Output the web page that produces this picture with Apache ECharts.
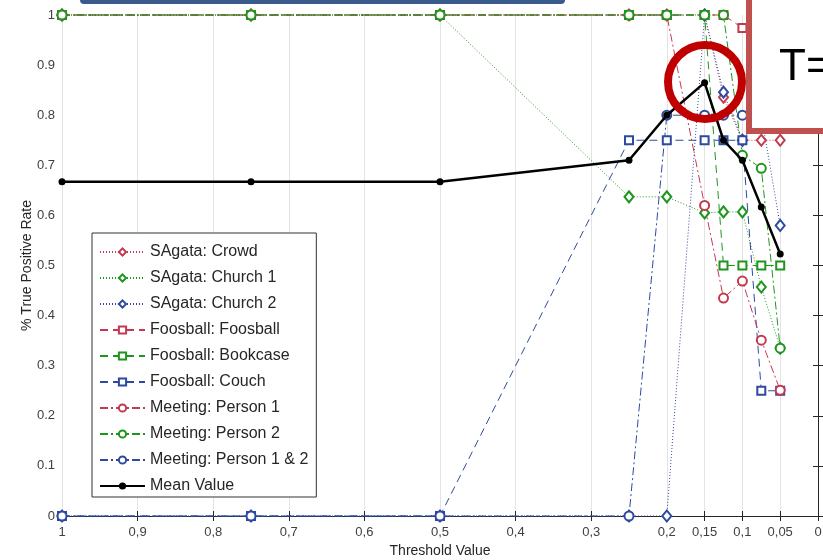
<!DOCTYPE html>
<html>
<head>
<meta charset="utf-8">
<script src="https://cdn.jsdelivr.net/npm/echarts@6/dist/echarts.min.js"></script>
<style>
  html, body { margin: 0; padding: 0; background: #fff; }
  #chart { width: 823px; height: 560px; }
</style>
</head>
<body>
<div id="chart"></div>
<script>
// threshold values where each curve is sampled
const thresholds = [1, 0.75, 0.5, 0.25, 0.2, 0.15, 0.125, 0.1, 0.075, 0.05];

// true positive rate per sequence / object
const sagataCrowd   = [1, 1, 1, 1, 1, 1, 0.836, 0.75, 0.75, 0.75];
const sagataChurch1 = [1, 1, 1, 0.637, 0.637, 0.605, 0.607, 0.607, 0.457, 0.335];
const sagataChurch2 = [0, 0, 0, 0, 0, 1, 0.846, 0.75, 0.8, 0.58];
const foosFoosball  = [1, 1, 1, 1, 1, 1, 1, 0.974, 0.97, 0.9];
const foosBookcase  = [1, 1, 1, 1, 1, 1, 0.5, 0.5, 0.5, 0.5];
const foosCouch     = [0, 0, 0, 0.75, 0.75, 0.75, 0.75, 0.75, 0.25, 0.25];
const meetPerson1   = [1, 1, 1, 1, 1, 0.62, 0.435, 0.469, 0.351, 0.251];
const meetPerson2   = [1, 1, 1, 1, 1, 1, 1, 0.72, 0.694, 0.335];
const meetPerson12  = [0, 0, 0, 0, 0.8, 0.8, 0.8, 0.8, 0.8, 0.8];
const meanValue     = [0.667, 0.667, 0.667, 0.71, 0.8, 0.865, 0.75, 0.71, 0.617, 0.523];

const xTicks = [1, 0.9, 0.8, 0.7, 0.6, 0.5, 0.4, 0.3, 0.2, 0.15, 0.1, 0.05, 0];

const RED = "#c23a4f";
const GREEN = "#1e961e";
const BLUE = "#2d4aa0";
const FONT = "Liberation Sans, Arial, sans-serif";

const pairs = (ys) => thresholds.map((x, i) => [x, ys[i]]);

const curve = (name, ys, color, dash, symbol, size) => ({
  name: name,
  type: "line",
  data: pairs(ys),
  clip: false,
  symbol: symbol,
  symbolSize: size,
  showAllSymbol: true,
  lineStyle: { color: color, width: 1, type: dash },
  itemStyle: { color: color, borderWidth: 1 },
});

const DOT = [1, 2];
const DASH = [8, 5];
const DASHDOT = [8, 3, 2, 3];

const series = [
  curve("SAgata: Crowd", sagataCrowd, RED, DOT, "emptyDiamond", [9, 11]),
  curve("SAgata: Church 1", sagataChurch1, GREEN, DOT, "emptyDiamond", [9, 11]),
  curve("SAgata: Church 2", sagataChurch2, BLUE, DOT, "emptyDiamond", [9, 11]),
  curve("Foosball: Foosball", foosFoosball, RED, DASH, "emptyRect", 8),
  curve("Foosball: Bookcase", foosBookcase, GREEN, DASH, "emptyRect", 8),
  curve("Foosball: Couch", foosCouch, BLUE, DASH, "emptyRect", 8),
  curve("Meeting: Person 1", meetPerson1, RED, DASHDOT, "emptyCircle", 9),
  curve("Meeting: Person 2", meetPerson2, GREEN, DASHDOT, "emptyCircle", 9),
  curve("Meeting: Person 1 & 2", meetPerson12, BLUE, DASHDOT, "emptyCircle", 9),
  {
    name: "Mean Value",
    type: "line",
    data: pairs(meanValue),
    clip: false,
    symbol: "circle",
    symbolSize: 7,
    lineStyle: { color: "#000", width: 2.5 },
    itemStyle: { color: "#000" },
    z: 5,
  },
];

const axisCol = "#262626";

const chart = echarts.init(document.getElementById("chart"));
chart.setOption({
  animation: false,
  textStyle: { fontFamily: FONT },
  grid: { left: 62, right: 5, top: 15, bottom: 44, outerBoundsMode: "none" },
  legend: {
    orient: "vertical",
    left: 92,
    top: 233,
    padding: [11, 8, 3, 7],
    itemWidth: 45,
    itemHeight: 9,
    itemGap: 10,
    backgroundColor: "#fff",
    borderColor: "#333",
    borderWidth: 1,
    borderRadius: 0,
    textStyle: { fontSize: 16, color: "#262626", fontFamily: FONT, lineHeight: 16 },
    data: series.map((s) => s.name),
  },
  xAxis: [
    {
      type: "value",
      min: 0,
      max: 1,
      inverse: true,
      name: "Threshold Value",
      nameLocation: "middle",
      nameGap: 28,
      nameMoveOverlap: false,
      nameTextStyle: { fontSize: 14, color: "#262626" },
      axisLine: { lineStyle: { color: axisCol } },
      axisTick: { inside: true, length: 5, lineStyle: { color: axisCol }, customValues: xTicks },
      axisLabel: {
        customValues: xTicks,
        margin: 10,
        fontSize: 13,
        color: "#404040",
        formatter: (v) => String(v).replace(".", ","),
      },
      splitLine: { show: true, lineStyle: { color: "#e3e3e3" } },
    },
    {
      type: "value",
      min: 0,
      max: 1,
      inverse: true,
      position: "top",
      axisLine: { lineStyle: { color: axisCol } },
      axisTick: { inside: true, length: 5, lineStyle: { color: axisCol }, customValues: xTicks },
      axisLabel: { show: false },
      splitLine: { show: false },
    },
  ],
  yAxis: [
    {
      type: "value",
      min: 0,
      max: 1,
      interval: 0.1,
      name: "% True Positive Rate",
      nameLocation: "middle",
      nameGap: 28,
      nameMoveOverlap: false,
      nameTextStyle: { fontSize: 14, color: "#262626" },
      axisLine: { show: true, lineStyle: { color: axisCol } },
      axisTick: { show: true, inside: true, length: 5, lineStyle: { color: axisCol } },
      axisLabel: { margin: 7, fontSize: 13, color: "#404040" },
      splitLine: { show: false },
    },
    {
      type: "value",
      min: 0,
      max: 1,
      interval: 0.1,
      position: "right",
      axisLine: { show: true, lineStyle: { color: axisCol } },
      axisTick: { show: true, inside: true, length: 5, lineStyle: { color: axisCol } },
      axisLabel: { show: false },
      splitLine: { show: false },
    },
  ],
  series: series,
  graphic: [
    {
      type: "rect",
      z: 100,
      shape: { x: 80, y: -6, width: 485, height: 10, r: 4 },
      style: { fill: "#3b5a8c" },
    },
    {
      type: "circle",
      z: 100,
      shape: { cx: 705, cy: 82, r: 37 },
      style: { fill: "none", stroke: "#c00000", lineWidth: 8 },
    },
    {
      type: "rect",
      z: 100,
      shape: { x: 749, y: -10, width: 120, height: 141 },
      style: { fill: "#fff", stroke: "#c0504d", lineWidth: 6 },
    },
    {
      type: "text",
      z: 101,
      x: 779,
      y: 46,
      style: { text: "T=", fontSize: 44, fill: "#000", fontFamily: FONT },
    },
  ],
});
</script>
</body>
</html>
